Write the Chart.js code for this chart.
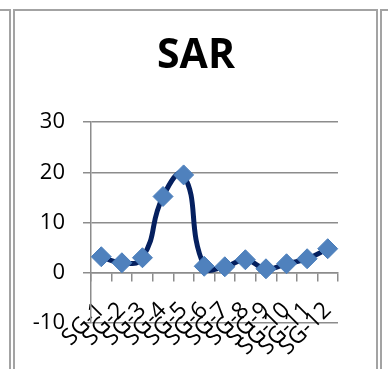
<!DOCTYPE html>
<html>
<head>
<meta charset="utf-8">
<script src="https://cdn.jsdelivr.net/npm/chart.js@4.4.1/dist/chart.umd.min.js"></script>
<style>
  html, body { margin: 0; padding: 0; background: #ffffff; }
  #wrap { position: relative; width: 388px; height: 369px; overflow: hidden; }
  #chart { position: absolute; left: 0; top: 0; }
  .rule { position: absolute; background: #a3a3a3; }
</style>
</head>
<body>
<div id="wrap">
  <!-- table cell borders (double lines) -->
  <div class="rule" style="left:0;top:9px;width:11px;height:2px"></div>
  <div class="rule" style="left:13px;top:9px;width:365px;height:2px"></div>
  <div class="rule" style="left:380px;top:9px;width:8px;height:2px"></div>
  <div class="rule" style="left:9px;top:9px;width:2px;height:360px"></div>
  <div class="rule" style="left:13px;top:9px;width:2px;height:360px"></div>
  <div class="rule" style="left:376px;top:9px;width:2px;height:360px"></div>
  <div class="rule" style="left:380px;top:9px;width:2px;height:360px"></div>
  <canvas id="chart" width="388" height="369"></canvas>
</div>
<script>
// Sampling sites and their SAR values
const sites = ['SG-1', 'SG-2', 'SG-3', 'SG-4', 'SG-5', 'SG-6', 'SG-7', 'SG-8', 'SG-9', 'SG-10', 'SG-11', 'SG-12'];
const sarValues = [3.2, 2.0, 3.0, 15.2, 19.5, 1.3, 1.2, 2.6, 0.8, 1.8, 2.8, 4.8];
const yTicks = [-10, 0, 10, 20, 30];

const gridColor = '#8c8c8c';

// Let the value-axis labels extend past the narrow axis box on the left
const widenLabelArea = {
  id: 'widenLabelArea',
  afterLayout(chart) { chart.scales.y.left = 0; }
};

new Chart(document.getElementById('chart'), {
  type: 'line',
  data: {
    labels: sites,
    datasets: [{
      label: 'SAR',
      data: sarValues,
      borderColor: '#05205f',
      borderWidth: 5,
      tension: 0.5,
      pointStyle: 'rectRot',
      pointRadius: 10,
      pointBackgroundColor: '#4f81bd',
      pointBorderColor: '#4a7ebb',
      pointBorderWidth: 1
    }]
  },
  plugins: [widenLabelArea],
  options: {
    responsive: false,
    animation: false,
    layout: { padding: { left: 54, right: 50, top: 18, bottom: 46 } },
    plugins: {
      legend: { display: false },
      tooltip: { enabled: false },
      title: {
        display: true,
        text: 'SAR',
        color: '#000000',
        font: { family: 'Open Sans', size: 41, weight: 'bold' },
        padding: { top: 14, bottom: 41 }
      }
    },
    scales: {
      x: {
        type: 'category',
        position: { y: 0 },
        offset: true,
        grid: {
          offset: true,
          drawOnChartArea: false,
          drawTicks: true,
          tickLength: 8,
          color: gridColor,
          lineWidth: 1.5
        },
        border: { display: true, color: gridColor, width: 1.5 },
        ticks: {
          autoSkip: false,
          maxRotation: 45,
          minRotation: 45,
          padding: 16,
          color: '#000000',
          font: { family: 'Open Sans', size: 23 }
        }
      },
      y: {
        min: yTicks[0],
        max: yTicks[yTicks.length - 1],
        afterFit: (scale) => { scale.width = 37; },
        afterBuildTicks: (scale) => { scale.ticks = yTicks.map(v => ({ value: v })); },
        grid: {
          color: gridColor,
          lineWidth: 1.5,
          drawTicks: true,
          tickLength: 8
        },
        border: { display: true, color: gridColor, width: 1.5 },
        ticks: {
          padding: 18,
          color: '#000000',
          font: { family: 'Open Sans', size: 22 }
        }
      }
    }
  }
});
</script>
</body>
</html>
